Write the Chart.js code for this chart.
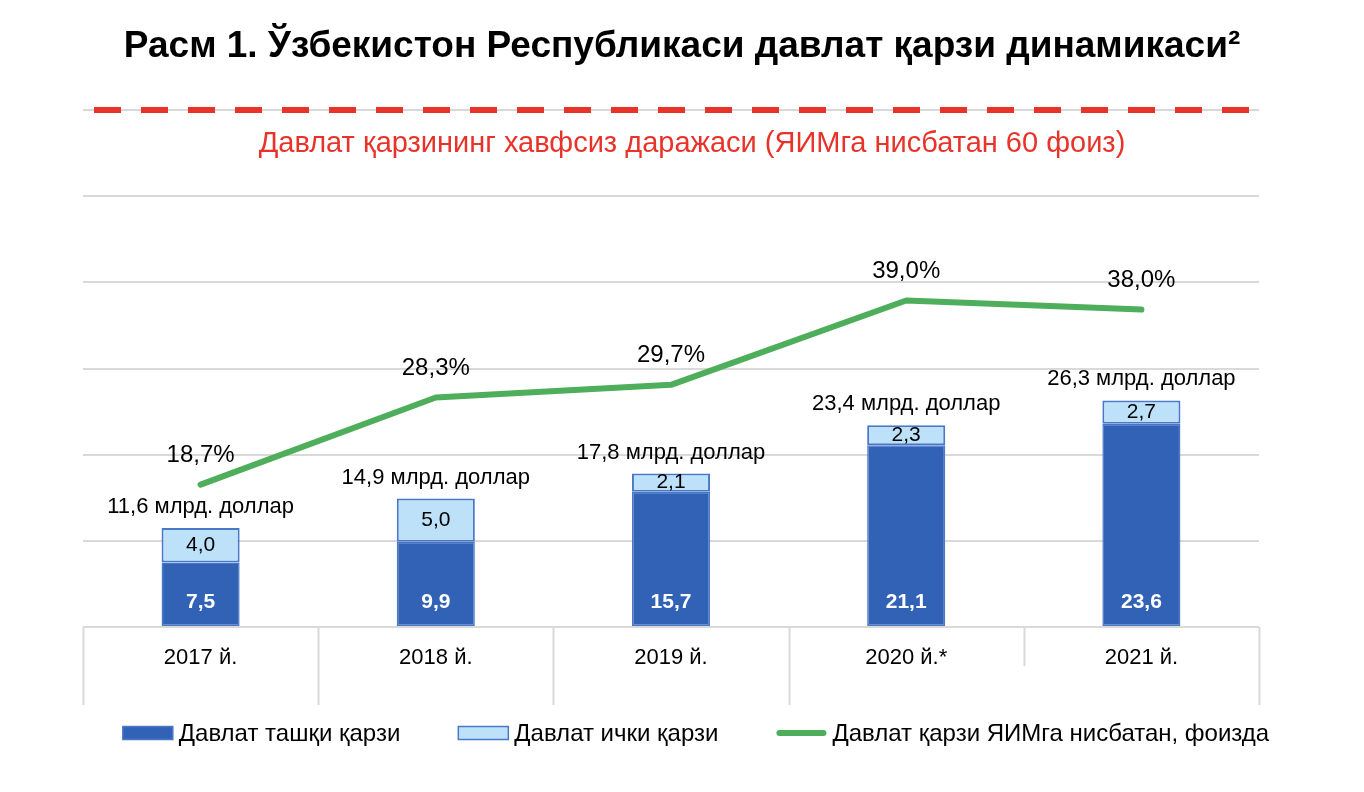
<!DOCTYPE html>
<html lang="uz">
<head>
<meta charset="utf-8">
<title>Давлат қарзи динамикаси</title>
<script src="https://cdn.jsdelivr.net/npm/chart.js@4.4.1/dist/chart.umd.min.js"></script>
<style>
  html, body { margin: 0; padding: 0; background: #fff; }
</style>
</head>
<body>
<canvas id="debtChart" width="1364" height="792"></canvas>
<script>
/* ─── Маълумотлар ───────────────────────────── */
const YEARS = ["2017 й.", "2018 й.", "2019 й.", "2020 й.*", "2021 й."];
const EXTERNAL_DEBT = [7.5, 9.9, 15.7, 21.1, 23.6];   // млрд. доллар
const INTERNAL_DEBT = [4.0, 5.0, 2.1, 2.3, 2.7];      // млрд. доллар
const TOTAL_DEBT = [11.6, 14.9, 17.8, 23.4, 26.3];    // подписи над столбцами
const DEBT_TO_GDP = [18.7, 28.3, 29.7, 39.0, 38.0];   // фоиз
const SAFE_LEVEL = 60;

const FONT = '"Liberation Sans", Arial, sans-serif';
const DARK = "#3162B6";
const LIGHT = "#BDE1F8";
const EDGE = "#4A78C8";
const GREEN = "#4EAE5B";
const RED = "#E8332A";
const GRID = "#D9D9D9";

const fmt = (v) => v.toFixed(1).replace(".", ",");

/* ─── Подписи, пороговая линия, таблица и легенда ─── */
const overlayPlugin = {
  id: "overlay",
  afterDraw(chart) {
    const { ctx, chartArea: a, scales } = chart;
    const x = scales.x, y2 = scales.y2;
    ctx.save();

    // вертикальные линии таблицы под осью
    ctx.strokeStyle = GRID;
    ctx.lineWidth = 2;
    for (let k = 0; k <= YEARS.length; k++) {
      const px = Math.round(x.getPixelForValue(k - 0.5)) + 0.5;
      const bottom = k === 4 ? x.top + 39 : x.bottom; // в оригинале эта линия короче
      ctx.beginPath();
      ctx.moveTo(px, x.top);
      ctx.lineTo(px, bottom);
      ctx.stroke();
    }

    // хавфсиз даража 60%
    const ys = y2.getPixelForValue(SAFE_LEVEL);
    ctx.strokeStyle = RED;
    ctx.lineWidth = 6;
    ctx.setLineDash([27, 20]);
    ctx.beginPath();
    ctx.moveTo(a.left + 11, ys);
    ctx.lineTo(a.right, ys);
    ctx.stroke();
    ctx.setLineDash([]);

    ctx.fillStyle = RED;
    ctx.font = `29px ${FONT}`;
    ctx.textAlign = "center";
    ctx.textBaseline = "middle";
    ctx.fillText("Давлат қарзининг хавфсиз даражаси (ЯИМга нисбатан 60 фоиз)", (a.left + a.right) / 2 + 21, ys + 34);

    // подписи столбцов
    const ext = chart.getDatasetMeta(0).data;
    const int = chart.getDatasetMeta(1).data;
    ext.forEach((el, i) => {
      ctx.fillStyle = "#fff";
      ctx.font = `bold 21px ${FONT}`;
      ctx.fillText(fmt(EXTERNAL_DEBT[i]), el.x, el.base - 24);
    });
    int.forEach((el, i) => {
      ctx.fillStyle = "#000";
      ctx.font = `21px ${FONT}`;
      ctx.fillText(fmt(INTERNAL_DEBT[i]), el.x, (el.y + el.base) / 2);
      ctx.font = `22px ${FONT}`;
      ctx.fillText(fmt(TOTAL_DEBT[i]) + " млрд. доллар", el.x, el.y - 21);
    });

    // подписи линии
    ctx.font = `24px ${FONT}`;
    chart.getDatasetMeta(2).data.forEach((el, i) => {
      ctx.fillText(fmt(DEBT_TO_GDP[i]) + "%", el.x, el.y - 29);
    });

    // легенда
    const sets = chart.data.datasets;
    const boxW = 50, textGap = 6, itemGap = 58;
    ctx.font = `24px ${FONT}`;
    const widths = sets.map((d) => boxW + textGap + ctx.measureText(d.label).width);
    const total = widths.reduce((s, w) => s + w, 0) + itemGap * (sets.length - 1);
    let cx = chart.width / 2 + 14 - total / 2;
    const cy = x.bottom + 28;
    ctx.textAlign = "left";
    sets.forEach((d, i) => {
      if (d.type === "line") {
        ctx.strokeStyle = d.borderColor;
        ctx.lineWidth = 6;
        ctx.lineCap = "round";
        ctx.beginPath();
        ctx.moveTo(cx + 3, cy);
        ctx.lineTo(cx + boxW - 3, cy);
        ctx.stroke();
      } else {
        ctx.fillStyle = d.backgroundColor;
        ctx.fillRect(cx, cy - 6.5, boxW, 13);
        ctx.strokeStyle = d.borderColor;
        ctx.lineWidth = 1.5;
        ctx.strokeRect(cx, cy - 6.5, boxW, 13);
      }
      ctx.fillStyle = "#000";
      ctx.fillText(d.label, cx + boxW + textGap, cy + 1);
      cx += widths[i] + itemGap;
    });

    ctx.restore();
  },
};

/* ─── Диаграмма ─────────────────────────────── */
function initChart() {
  const ctx = document.getElementById("debtChart").getContext("2d");
  new Chart(ctx, {
    data: {
      labels: YEARS,
      datasets: [
        {
          type: "bar",
          label: "Давлат ташқи қарзи",
          data: EXTERNAL_DEBT,
          backgroundColor: DARK,
          borderColor: EDGE,
          borderWidth: 1.5,
          borderSkipped: false,
          barPercentage: 0.415,
          categoryPercentage: 0.8,
          order: 1,
        },
        {
          type: "bar",
          label: "Давлат ички қарзи",
          data: INTERNAL_DEBT,
          backgroundColor: LIGHT,
          borderColor: EDGE,
          borderWidth: 2,
          borderSkipped: false,
          barPercentage: 0.415,
          categoryPercentage: 0.8,
          order: 1,
        },
        {
          type: "line",
          label: "Давлат қарзи ЯИМга нисбатан, фоизда",
          data: DEBT_TO_GDP,
          yAxisID: "y2",
          borderColor: GREEN,
          backgroundColor: GREEN,
          borderWidth: 6,
          borderCapStyle: "round",
          borderJoinStyle: "round",
          pointRadius: 0,
          tension: 0,
          order: 0,
        },
      ],
    },
    options: {
      responsive: false,
      animation: false,
      layout: { padding: { top: 0, left: 0, right: 0, bottom: 87 } },
      scales: {
        x: {
          stacked: true,
          grid: { display: false },
          border: { display: false },
          ticks: { color: "#000", font: { family: FONT, size: 22 }, padding: 10 },
          afterFit: (s) => { s.height = 78; },
        },
        y: {
          stacked: true,
          min: 0,
          max: 60,
          ticks: { display: false, stepSize: 10 },
          grid: { color: GRID, lineWidth: 2, drawTicks: false },
          border: { display: false },
          afterFit: (s) => { s.width = 83; },
        },
        y2: {
          position: "right",
          min: 3,
          max: 60,
          ticks: { display: false },
          grid: { display: false, drawTicks: false },
          border: { display: false },
          afterFit: (s) => { s.width = 105; },
        },
      },
      plugins: {
        legend: { display: false },
        tooltip: { enabled: false },
        title: {
          display: true,
          text: "Расм 1. Ўзбекистон Республикаси давлат қарзи динамикаси²",
          color: "#000",
          font: { family: FONT, size: 37, weight: "bold" },
          padding: { top: 25, bottom: 40.6 },
        },
      },
    },
    plugins: [overlayPlugin],
  });
}

window.onload = initChart;
</script>
</body>
</html>
